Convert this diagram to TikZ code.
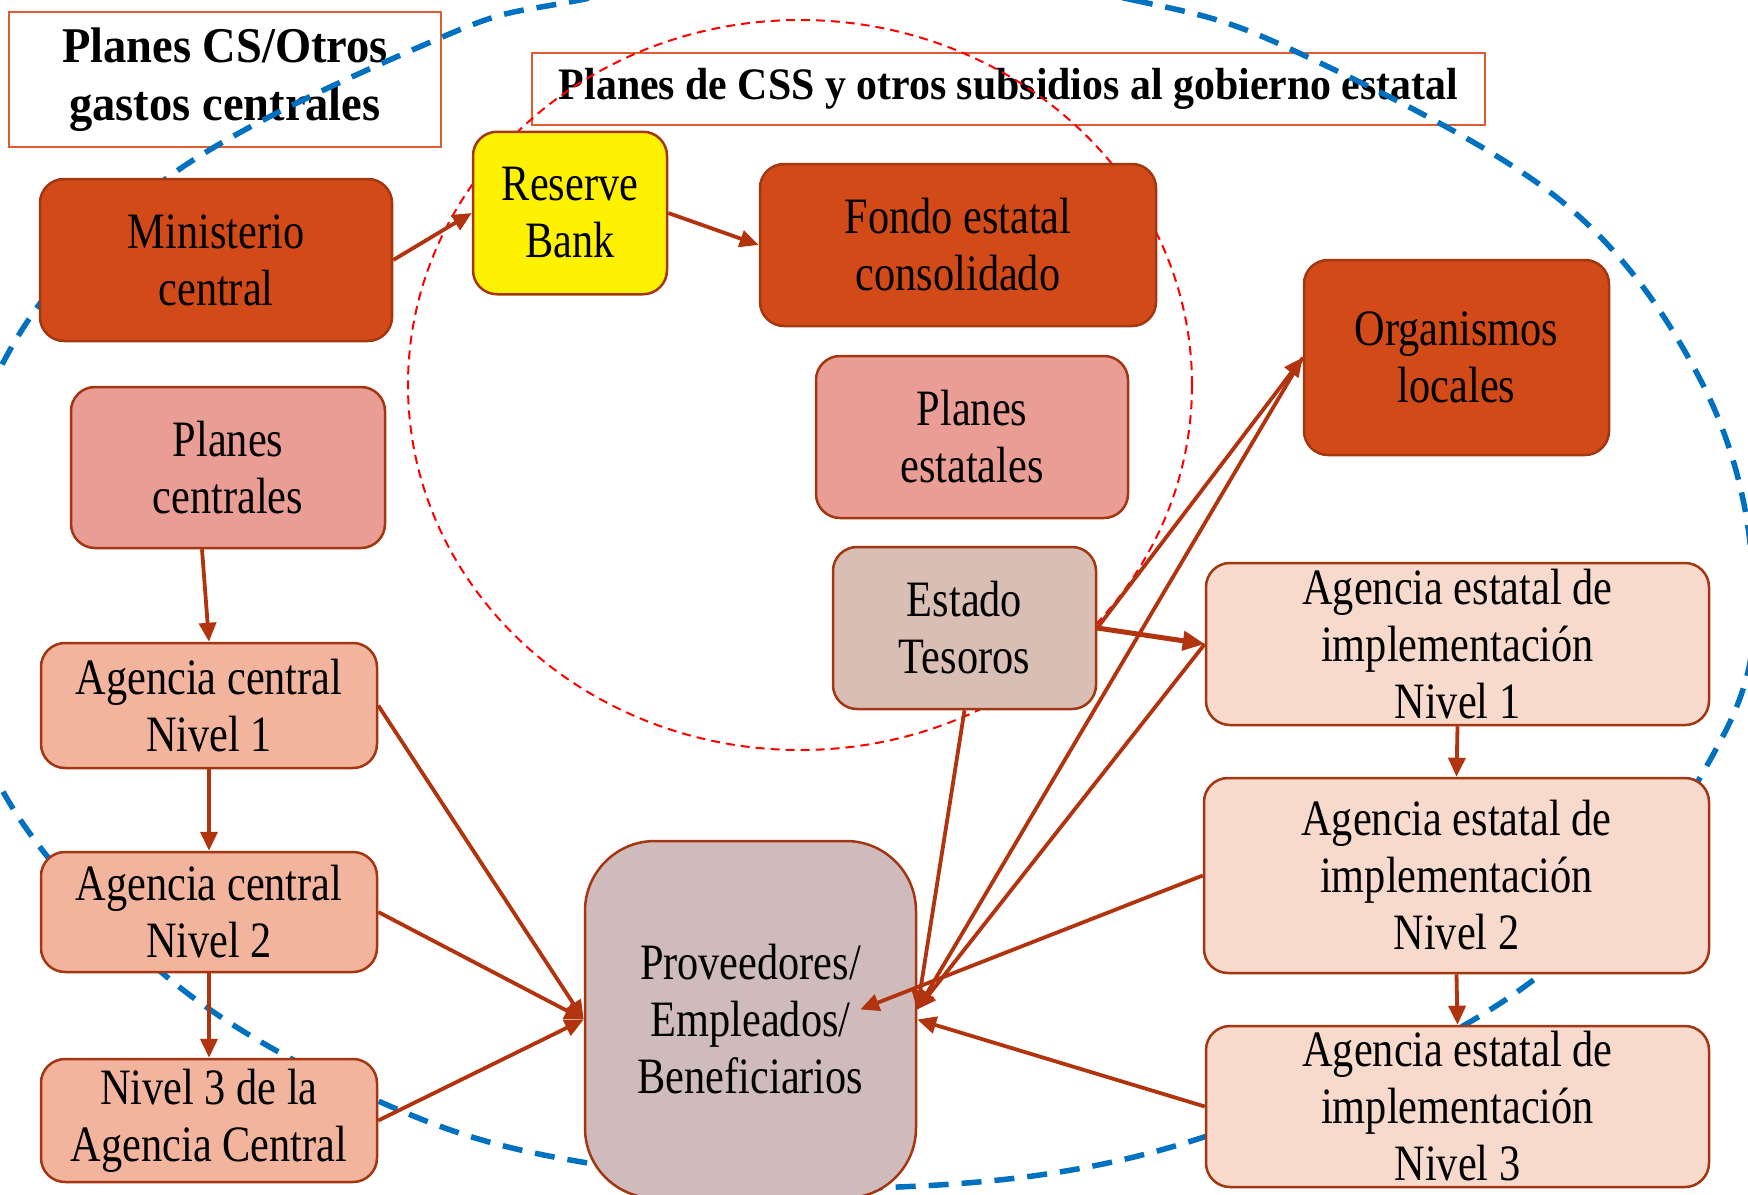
\documentclass[tikz,border=0pt]{standalone}
\usepackage{fontspec}
\setmainfont{Liberation Serif}[FakeStretch=0.83]
\newfontfamily\titlefont{Liberation Serif}[FakeStretch=0.93]
\usetikzlibrary{arrows.meta}
\definecolor{dkor}{RGB}{209,74,24}
\definecolor{bord}{RGB}{163,55,18}
\definecolor{arr}{RGB}{178,52,14}
\definecolor{pinkA}{RGB}{233,157,148}
\definecolor{salmon}{RGB}{242,180,156}
\definecolor{lightS}{RGB}{248,218,205}
\definecolor{tesc}{RGB}{217,190,180}
\definecolor{provc}{RGB}{208,187,188}
\definecolor{tbord}{RGB}{222,92,52}
\definecolor{blueE}{RGB}{0,112,192}
\tikzset{
  box/.style={draw=bord, line width=2.5pt, rounded corners=24pt, align=center,
    inner sep=0pt, text=black, font=\fontsize{51}{57}\selectfont},
  titlebox/.style={draw=tbord, line width=2pt, fill=white, align=center, inner sep=0pt,
    font=\titlefont\bfseries\fontsize{50}{58}\selectfont},
  conn/.style={draw=arr, line width=3.8pt, -{Triangle[length=19pt,width=17pt]}},
  thickconn/.style={draw=arr, line width=5pt, -{Triangle[length=22pt,width=19pt]}}
}
\begin{document}
\begin{tikzpicture}[x=1pt,y=-1pt]
\useasboundingbox (0,0) rectangle (1748,1194);
% title boxes
\node[titlebox, minimum width=432pt, minimum height=135pt] (t1) at (225,79.5) {Planes CS/Otros\\gastos centrales};
\node[titlebox, minimum width=953pt, minimum height=71.5pt, font=\titlefont\bfseries\fontsize{45}{52}\selectfont] (t2) at (1008.5,89) {Planes de CSS y otros subsidios al gobierno estatal};
% dashed outlines
\draw[blueE, line width=5.5pt, dash pattern=on 20pt off 13pt]
  plot[smooth cycle, tension=0.6] coordinates {(855,-42) (1133,0) (1299,53) (1560,200) (1700,379) (1752,565) (1723,736) (1536,978) (1204,1137) (898,1187) (582,1162) (376,1100) (167,977) (0,786) (-45,575) (5,359) (167,178) (440,38) (580,0)};
\draw[red, line width=2pt, dash pattern=on 9pt off 6pt] (800,385) ellipse [x radius=392pt, y radius=365pt];
% nodes
\node[box, fill=dkor, minimum width=352pt, minimum height=162pt] (min) at (216,260) {Ministerio\\central};
\node[box, fill=yellow, minimum width=194pt, minimum height=162.5pt] (rb) at (570,213) {Reserve\\Bank};
\node[box, fill=dkor, minimum width=396pt, minimum height=162pt] (fondo) at (958,245) {Fondo estatal\\consolidado};
\node[box, fill=dkor, minimum width=305pt, minimum height=195pt] (org) at (1456.5,357.5) {Organismos\\locales};
\node[box, fill=pinkA, minimum width=314pt, minimum height=161pt] (pc) at (228,467.5) {Planes\\centrales};
\node[box, fill=pinkA, minimum width=312pt, minimum height=162pt] (pe) at (972,437) {Planes\\estatales};
\node[box, fill=tesc, minimum width=263pt, minimum height=162pt] (et) at (964.5,628) {Estado\\Tesoros};
\node[box, fill=salmon, minimum width=336pt, minimum height=125pt] (ac1) at (209,705.5) {Agencia central\\Nivel 1};
\node[box, fill=salmon, minimum width=336pt, minimum height=120pt] (ac2) at (209,912) {Agencia central\\Nivel 2};
\node[box, fill=salmon, minimum width=336pt, minimum height=123pt] (ac3) at (209,1120.5) {Nivel 3 de la\\Agencia Central};
\node[box, fill=provc, rounded corners=70pt, minimum width=331pt, minimum height=357pt] (prov) at (750.5,1019.5) {Proveedores/\\Empleados/\\Beneficiarios};
\node[box, fill=lightS, minimum width=503pt, minimum height=162pt] (ae1) at (1457.5,644) {Agencia estatal de\\implementación\\Nivel 1};
\node[box, fill=lightS, minimum width=505pt, minimum height=195pt] (ae2) at (1456.5,875.5) {Agencia estatal de\\implementación\\Nivel 2};
\node[box, fill=lightS, minimum width=503pt, minimum height=161pt] (ae3) at (1457.5,1106.5) {Agencia estatal de\\implementación\\Nivel 3};
% connectors
\draw[conn] (min.east) -- (rb.west);
\draw[conn] (rb.east) -- (fondo.west);
\draw[conn] ([xshift=-26pt]pc.south) -- (ac1.north);
\draw[conn] (ac1.south) -- (ac2.north);
\draw[conn] (ac2.south) -- (ac3.north);
\draw[conn] (ac1.east) -- (prov.west);
\draw[conn] (ac2.east) -- (prov.west);
\draw[conn] (ac3.east) -- (prov.west);
\draw[thickconn] (et.east) -- (ae1.west);
\draw[conn] (et.east) -- (org.west);
\draw[conn] (et.south) -- ([yshift=10pt]prov.east);
\draw[conn] (org.west) -- ([yshift=10pt]prov.east);
\draw[conn] (ae1.west) -- ([yshift=10pt]prov.east);
\draw[conn] (ae2.west) -- ([xshift=-57pt,yshift=10pt]prov.east);
\draw[conn] (ae3.west) -- (prov.east);
\draw[conn] (ae1.south) -- (ae2.north);
\draw[conn] (ae2.south) -- (ae3.north);
\end{tikzpicture}
\end{document}
